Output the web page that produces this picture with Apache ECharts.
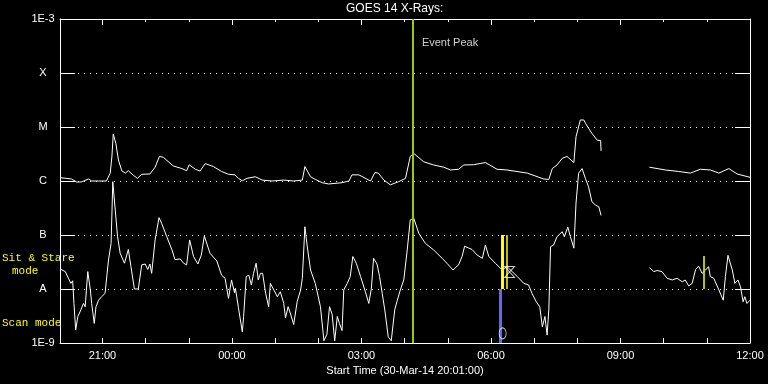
<!DOCTYPE html>
<html>
<head>
<meta charset="utf-8">
<script src="https://cdn.jsdelivr.net/npm/echarts@6/dist/echarts.min.js"></script>
<style>
  html, body { margin: 0; background: #000; }
  #chart { width: 768px; height: 384px; }
</style>
</head>
<body>
<div id="chart"></div>
<script>
// hours since 00:00 on 30-Mar-14 (values > 24 are on 31-Mar)
const startHour = 20 + 1 / 60
const endHour = 36
const hourTicks = [21, 22, 23, 24, 25, 26, 27, 28, 29, 30, 31, 32, 33, 34, 35, 36]
const labelHours = [21, 24, 27, 30, 33, 36]
const yTickLabels = ['1E-9', 'A', 'B', 'C', 'M', 'X', '1E-3'] // 1e-9 .. 1e-3

// GOES long channel (1-8 A), W/m2
const longFluxA = [
  [20.04, 1.15e-6], [20.28, 1.09e-6], [20.40, 0.96e-6], [20.51, 0.96e-6], [20.68, 1.09e-6],
  [20.75, 1.0e-6], [20.91, 1.0e-6], [21.09, 1.0e-6], [21.18, 1.39e-6], [21.22, 2.9e-6],
  [21.25, 7.4e-6], [21.31, 5.0e-6], [21.37, 2.45e-6], [21.45, 1.53e-6], [21.53, 1.4e-6],
  [21.60, 1.55e-6], [21.72, 1.27e-6], [21.81, 1.12e-6], [21.91, 1.33e-6], [22.10, 1.35e-6],
  [22.22, 1.8e-6], [22.32, 2.85e-6], [22.41, 2.75e-6], [22.64, 1.9e-6], [22.84, 1.7e-6],
  [22.95, 1.55e-6], [23.01, 2.0e-6], [23.15, 1.65e-6], [23.26, 1.53e-6], [23.38, 2.1e-6],
  [23.57, 1.85e-6], [23.76, 1.5e-6], [23.92, 1.33e-6], [24.07, 1.3e-6], [24.15, 1.12e-6],
  [24.24, 1.01e-6], [24.35, 1.12e-6], [24.54, 1.2e-6], [24.70, 1.04e-6], [24.93, 1.0e-6],
  [25.20, 1.04e-6], [25.43, 1.0e-6], [25.63, 1.04e-6], [25.69, 1.85e-6], [25.82, 1.2e-6],
  [25.93, 1.07e-6], [26.09, 0.93e-6], [26.24, 0.88e-6], [26.55, 0.93e-6], [26.71, 1.0e-6],
  [26.78, 1.3e-6], [26.94, 1.3e-6], [27.21, 1.0e-6], [27.31, 1.43e-6], [27.39, 1.4e-6],
  [27.52, 1.04e-6], [27.67, 0.85e-6], [27.86, 0.97e-6], [28.02, 1.12e-6], [28.13, 2.85e-6],
  [28.21, 3.25e-6], [28.44, 2.27e-6], [28.67, 1.98e-6], [28.91, 1.8e-6], [29.06, 1.6e-6],
  [29.25, 1.65e-6], [29.37, 1.98e-6], [29.60, 2.0e-6], [29.87, 2.2e-6], [30.14, 1.65e-6],
  [30.37, 1.6e-6], [30.84, 1.4e-6], [31.22, 1.09e-6], [31.34, 1.07e-6], [31.42, 1.7e-6],
  [31.53, 1.98e-6], [31.65, 2.63e-6], [31.76, 2.85e-6], [31.92, 2.2e-6], [31.97, 6.6e-6],
  [32.07, 1.35e-5], [32.15, 1.35e-5], [32.19, 1.17e-5], [32.26, 0.95e-5], [32.34, 7.6e-6],
  [32.46, 5.7e-6], [32.54, 5.6e-6], [32.55, 3.6e-6]
]
const longFluxB = [
  [33.67, 1.8e-6], [34.04, 1.6e-6], [34.35, 1.5e-6], [34.62, 1.4e-6], [34.85, 1.65e-6],
  [35.08, 1.6e-6], [35.28, 1.4e-6], [35.51, 1.7e-6], [35.70, 1.35e-6], [36.0, 1.17e-6]
]

// GOES short channel (0.5-4 A), W/m2
const shortFluxA = [
  [20.04, 2.3e-8], [20.14, 2.1e-8], [20.21, 1.58e-8], [20.27, 1.27e-8], [20.31, 1.42e-8],
  [20.34, 5.4e-9], [20.38, 1.74e-9], [20.43, 3.1e-9], [20.50, 4.1e-9], [20.56, 5.4e-9],
  [20.60, 4.7e-9], [20.66, 2.1e-8], [20.72, 9.6e-9], [20.75, 5.4e-9], [20.81, 2.3e-9],
  [20.85, 4.7e-9], [20.91, 6.2e-9], [20.98, 7.2e-9], [21.06, 8.3e-9], [21.14, 3.45e-8],
  [21.20, 7.0e-8], [21.24, 9.7e-7], [21.29, 3.3e-7], [21.35, 9.3e-8], [21.41, 4.6e-8],
  [21.51, 3.0e-8], [21.60, 5.4e-8], [21.66, 2.6e-8], [21.74, 1.0e-8], [21.83, 1.0e-8],
  [21.91, 2.8e-8], [21.99, 2.9e-8], [22.05, 2.3e-8], [22.10, 2.9e-8], [22.14, 1.95e-8],
  [22.22, 8.1e-8], [22.31, 2.1e-7], [22.37, 1.65e-7], [22.49, 9.3e-8], [22.61, 5.3e-8],
  [22.68, 3.5e-8], [22.80, 3.6e-8], [22.88, 3.0e-8], [22.95, 2.8e-8], [23.02, 8.1e-8],
  [23.11, 4.0e-8], [23.21, 2.9e-8], [23.29, 4.25e-8], [23.36, 9.6e-8], [23.49, 4.6e-8],
  [23.65, 3.3e-8], [23.76, 1.8e-8], [23.84, 1.58e-8], [23.92, 6.7e-9], [23.99, 1.47e-8],
  [24.06, 8.5e-9], [24.08, 1.03e-8], [24.15, 4.5e-9], [24.24, 1.6e-9], [24.27, 3.1e-9],
  [24.33, 1.7e-8], [24.39, 1.8e-8], [24.45, 1.19e-8], [24.50, 1.95e-8], [24.56, 3.0e-8],
  [24.61, 1.47e-8], [24.66, 1.95e-8], [24.71, 1.95e-8], [24.78, 8.3e-9], [24.85, 4.7e-9],
  [24.89, 1.27e-8], [24.97, 9.6e-9], [25.05, 7.2e-9], [25.12, 8.9e-9], [25.20, 5.4e-9],
  [25.24, 2.9e-9], [25.30, 4.7e-9], [25.35, 3.6e-9], [25.43, 2.2e-9], [25.51, 5.8e-9],
  [25.59, 9.6e-9], [25.63, 1.58e-8], [25.69, 1.42e-7], [25.74, 6.5e-8], [25.82, 2.25e-8],
  [25.93, 1.27e-8], [26.05, 4.7e-9], [26.13, 1.1e-9], [26.20, 1.45e-9], [26.26, 4.7e-9],
  [26.32, 3.4e-9], [26.38, 1.1e-9], [26.44, 3.1e-9], [26.49, 2.3e-9], [26.55, 1.7e-9],
  [26.59, 9.6e-9], [26.67, 1.27e-8], [26.74, 1.7e-8], [26.80, 4.0e-8], [26.88, 3.0e-8],
  [26.98, 1.7e-8], [27.09, 8.9e-9], [27.17, 5.4e-9], [27.23, 1.03e-8], [27.28, 3.7e-8],
  [27.36, 2.9e-8], [27.42, 1.7e-8], [27.48, 8.3e-9], [27.54, 4.1e-9], [27.62, 1.3e-9],
  [27.69, 1.1e-9], [27.77, 4.1e-9], [27.83, 6.2e-9], [27.90, 9.6e-9], [27.98, 1.47e-8],
  [28.06, 5.3e-8], [28.13, 1.9e-7], [28.21, 2.05e-7], [28.33, 1.07e-7], [28.48, 7.0e-8],
  [28.67, 5.3e-8], [28.87, 3.7e-8], [28.98, 3.0e-8], [29.12, 2.25e-8], [29.25, 2.8e-8],
  [29.33, 4.0e-8], [29.39, 6.2e-8], [29.49, 5.7e-8], [29.56, 5.4e-8], [29.68, 4.25e-8],
  [29.80, 3.7e-8], [29.87, 6.5e-8], [29.95, 4.0e-8], [30.10, 3.0e-8], [30.26, 2.25e-8],
  [30.37, 2.6e-8], [30.49, 2.1e-8], [30.61, 1.7e-8], [30.76, 1.27e-8], [30.87, 1.19e-8],
  [30.95, 8.3e-9], [31.05, 5.8e-9], [31.13, 4.7e-9], [31.19, 2.0e-9], [31.25, 3.1e-9],
  [31.30, 1.4e-9], [31.34, 4.1e-9], [31.38, 6.1e-8], [31.45, 6.5e-8], [31.53, 9.3e-8],
  [31.65, 1.15e-7], [31.70, 9.3e-8], [31.78, 1.4e-7], [31.84, 9.3e-8], [31.92, 5.7e-8],
  [31.97, 3.9e-7], [32.03, 1.39e-6], [32.11, 1.7e-6], [32.19, 1.1e-6], [32.26, 7.8e-7],
  [32.34, 4.1e-7], [32.42, 3.6e-7], [32.50, 3.3e-7], [32.55, 2.3e-7]
]
const shortFluxB = [
  [33.67, 2.5e-8], [33.77, 2.1e-8], [33.85, 2.2e-8], [33.96, 2.1e-8], [34.08, 1.58e-8],
  [34.20, 1.47e-8], [34.31, 1.58e-8], [34.43, 1.36e-8], [34.50, 1.47e-8], [34.58, 1.14e-8],
  [34.66, 1.27e-8], [34.74, 2.3e-8], [34.81, 2.65e-8], [34.89, 1.95e-8], [34.97, 2.25e-8],
  [35.04, 2.6e-8], [35.08, 1.7e-8], [35.16, 1.58e-8], [35.28, 9.6e-9], [35.38, 6.2e-9],
  [35.43, 1.7e-8], [35.49, 4.2e-8], [35.59, 2.25e-8], [35.65, 1.27e-8], [35.72, 1.47e-8],
  [35.78, 1.1e-8], [35.84, 5.8e-9], [35.88, 7.2e-9], [35.93, 5.4e-9], [36.0, 6.2e-9]
]

// event / observing mode markers: [hour, fluxLow, fluxHigh]
const eventPeakHour = 28.18
const sitStareBars = [[30.26, 1e-8, 1e-7], [30.37, 1e-8, 1e-7], [34.92, 1e-8, 4.1e-8]]
const scanBars = [[30.22, 1e-9, 1e-8]]
const circleMarks = [[30.27, 1.5e-9]]
const hourglassMarks = [[30.43, 2.07e-8]]
const eventLabelPos = [[28.18, 3.6e-4]]

const font = 'Liberation Sans'
const pad2 = n => (n < 10 ? '0' : '') + n

function vBar(b, width, color) {
  return [
    { coord: [b[0], b[1]], lineStyle: { color: color, width: width, type: 'solid', opacity: 1 } },
    { coord: [b[0], b[2]] }
  ]
}

let myChart = echarts.init(document.getElementById('chart'))

const option = {
  animation: false,
  backgroundColor: '#000',
  title: {
    text: 'GOES 14 X-Rays:',
    left: 346, top: 0, padding: [3, 0, 0, 0],
    textStyle: { color: '#fff', fontSize: 12, fontWeight: 'normal', fontFamily: font }
  },
  grid: { left: 60, right: 18, top: 19, bottom: 41 },
  graphic: [
    { type: 'text', left: 2, top: 253, style: { text: 'Sit & Stare', fill: '#ffff00', font: '11px "Liberation Mono"' } },
    { type: 'text', left: 12, top: 266, style: { text: 'mode', fill: '#ffff00', font: '11px "Liberation Mono"' } },
    { type: 'text', left: 2, top: 318, style: { text: 'Scan mode', fill: '#ffff00', font: '11px "Liberation Mono"' } }
  ],
  xAxis: [
    {
      type: 'value', position: 'bottom', min: startHour, max: endHour,
      name: 'Start Time (30-Mar-14 20:01:00)', nameLocation: 'middle', nameGap: 21,
      nameTextStyle: { color: '#fff', fontSize: 11, fontFamily: font },
      axisLine: { lineStyle: { color: '#fff', width: 1 } },
      axisTick: { inside: true, length: 5, customValues: hourTicks, lineStyle: { color: '#fff' } },
      axisLabel: {
        customValues: labelHours, color: '#fff', fontSize: 11, fontFamily: font, margin: 7,
        formatter: v => pad2(Math.round(v) % 24) + ':00'
      },
      splitLine: { show: false }
    },
    {
      type: 'value', position: 'top', min: startHour, max: endHour,
      axisLine: { lineStyle: { color: '#fff', width: 1 } },
      axisTick: { inside: true, length: 3, customValues: hourTicks, lineStyle: { color: '#fff' } },
      axisLabel: { show: false }, splitLine: { show: false }
    },
    {
      type: 'value', position: 'top', min: startHour, max: endHour,
      axisLine: { show: false },
      axisTick: { inside: true, length: 6, customValues: labelHours, lineStyle: { color: '#fff' } },
      axisLabel: { show: false }, splitLine: { show: false }
    }
  ],
  yAxis: [
    {
      type: 'log', logBase: 10, min: 1e-9, max: 1e-3, interval: 1, position: 'left',
      axisLine: { show: true, lineStyle: { color: '#fff', width: 1 } },
      axisTick: { show: true, inside: true, length: 15, lineStyle: { color: '#fff' } },
      axisLabel: {
        color: '#fff', fontSize: 11, fontFamily: font, align: 'center', margin: 17,
        formatter: v => yTickLabels[Math.round(Math.log10(v)) + 9]
      },
      splitLine: { show: true, lineStyle: { color: '#fff', width: 1, type: [1, 5] } },
      minorTick: { show: false }
    },
    {
      type: 'log', logBase: 10, min: 1e-9, max: 1e-3, interval: 1, position: 'right',
      axisLine: { show: true, lineStyle: { color: '#fff', width: 1 } },
      axisTick: { show: true, inside: true, length: 15, lineStyle: { color: '#fff' } },
      axisLabel: { show: false }, splitLine: { show: false }
    }
  ],
  series: [
    {
      type: 'line', data: shortFluxA, showSymbol: false, symbol: 'none',
      lineStyle: { color: '#fff', width: 1 }, silent: true,
      markLine: {
        silent: true, symbol: 'none', label: { show: false },
        lineStyle: { color: '#ffff00', type: 'solid', opacity: 1 },
        data: [
          vBar([eventPeakHour, 1e-9, 1e-3], 2, '#99cc00'),
          ...scanBars.map(b => vBar(b, 3, '#6464ff')),
          vBar(sitStareBars[0], 3, '#ffff00'),
          vBar(sitStareBars[1], 1.5, '#ffff00'),
          vBar(sitStareBars[2], 1.5, '#ffff00')
        ]
      }
    },
    { type: 'line', data: shortFluxB, showSymbol: false, symbol: 'none', lineStyle: { color: '#fff', width: 1 }, silent: true },
    { type: 'line', data: longFluxA, showSymbol: false, symbol: 'none', lineStyle: { color: '#fff', width: 1 }, silent: true },
    { type: 'line', data: longFluxB, showSymbol: false, symbol: 'none', lineStyle: { color: '#fff', width: 1 }, silent: true },
    {
      type: 'scatter', data: circleMarks, symbol: 'circle', symbolSize: [7, 11],
      itemStyle: { color: 'rgba(0,0,0,0)', borderColor: '#fff', borderWidth: 1 }, silent: true, z: 5
    },
    {
      type: 'scatter', data: hourglassMarks, symbol: 'path://M0,0 L10,0 L0,10 L10,10 Z', symbolSize: [10, 11],
      itemStyle: { color: 'rgba(0,0,0,0)', borderColor: '#fff', borderWidth: 1 }, silent: true, z: 5
    },
    {
      type: 'scatter', data: eventLabelPos, symbol: 'circle', symbolSize: 1, silent: true,
      itemStyle: { color: 'rgba(0,0,0,0)' },
      label: {
        show: true, position: 'right', distance: 9, formatter: 'Event Peak',
        color: '#fff', fontSize: 11, fontFamily: font
      }
    }
  ]
}

myChart.setOption(option)
</script>
</body>
</html>
